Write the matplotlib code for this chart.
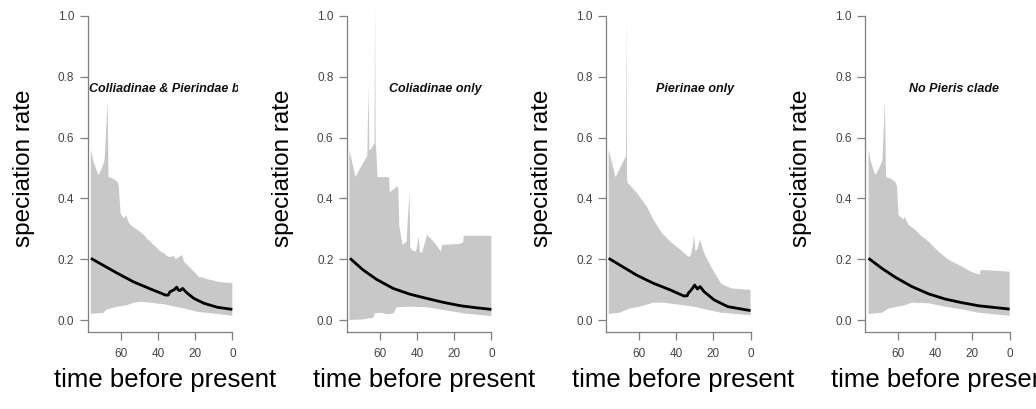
import numpy as np
import matplotlib
matplotlib.use("Agg")
from matplotlib import pyplot as plt

plt.rcParams['font.family'] = ['Liberation Sans', 'DejaVu Sans']

# ---- data (time before present, rate) ----
titles = ["Colliadinae & Pierindae basal", "Coliadinae only",
          "Pierinae only", "No Pieris clade"]

# panel 1: Colliadinae & Pierindae basal
p1_up_t = [76.0, 74.5, 72.0, 70.0, 68.6, 67.0, 66.5, 64.0, 61.8, 61.0, 60.0, 58.2, 57.0,
           56.0, 54.7, 53.0, 51.1, 49.5, 47.5, 45.5, 43.9, 42.0, 40.3, 38.5, 36.7, 35.0,
           33.2, 31.4, 30.5, 28.7, 26.9, 26.0, 24.0, 22.4, 20.0, 17.9, 15.5, 13.4, 10.0,
           8.1, 4.0, 0.0]
p1_up_v = [0.56, 0.52, 0.477, 0.50, 0.526, 0.72, 0.47, 0.465, 0.455, 0.44, 0.35, 0.335, 0.345,
           0.325, 0.313, 0.305, 0.297, 0.29, 0.28, 0.265, 0.258, 0.245, 0.236, 0.225, 0.22, 0.21,
           0.207, 0.211, 0.200, 0.207, 0.214, 0.192, 0.18, 0.17, 0.155, 0.141, 0.14, 0.134, 0.13,
           0.126, 0.123, 0.121]
p1_lo_t = [76.0, 69.0, 68.0, 65.4, 61.8, 56.5, 52.9, 49.3, 43.9, 36.7, 32.2, 26.0, 18.8, 8.1, 0.0]
p1_lo_v = [0.02, 0.024, 0.033, 0.038, 0.044, 0.049, 0.057, 0.06, 0.057, 0.052, 0.046, 0.038,
           0.027, 0.02, 0.014]
p1_mean_t = [76.0, 61.8, 52.9, 43.9, 35.8, 34.5, 33.5, 31.4, 29.9, 28.9, 28.1, 26.7, 24.2,
             20.6, 15.2, 8.1, 0.0]
p1_mean_v = [0.203, 0.154, 0.125, 0.102, 0.082, 0.082, 0.093, 0.099, 0.108, 0.098, 0.097,
             0.104, 0.088, 0.071, 0.055, 0.042, 0.035]

# panel 2: Coliadinae only
p2_up_t = [76.3, 73.0, 70.5, 68.0, 66.7, 66.0, 65.6, 64.9, 64.0, 62.8, 62.5, 62.2, 61.8, 61.2,
           55.0, 54.6, 50.5, 50.0, 49.5, 47.7, 45.6, 44.0, 43.6, 42.7, 40.5, 39.0, 38.5, 37.3,
           34.6, 31.1, 28.4, 27.2, 26.6, 17.5, 15.2, 14.8, 0.0]
p2_up_v = [0.56, 0.47, 0.50, 0.526, 0.54, 0.77, 0.56, 0.56, 0.57, 0.58, 1.04, 0.59, 0.55, 0.47,
           0.47, 0.42, 0.44, 0.43, 0.31, 0.247, 0.258, 0.42, 0.24, 0.23, 0.225, 0.275, 0.225, 0.22,
           0.28, 0.258, 0.236, 0.225, 0.247, 0.25, 0.255, 0.277, 0.277]
p2_lo_t = [76.3, 69.0, 63.3, 62.7, 59.0, 56.4, 52.5, 51.0, 43.8, 34.7, 25.7, 14.8, 0.0]
p2_lo_v = [0.0, 0.002, 0.008, 0.022, 0.024, 0.019, 0.022, 0.042, 0.044, 0.042, 0.033, 0.022, 0.013]
p2_mean_t = [76.0, 69.0, 61.8, 52.8, 43.8, 34.7, 25.7, 16.6, 7.6, 0.0]
p2_mean_v = [0.203, 0.165, 0.134, 0.104, 0.085, 0.071, 0.058, 0.047, 0.04, 0.035]

# panel 3: Pierinae only
p3_up_t = [76.2, 72.5, 70.0, 68.0, 66.9, 66.7, 66.3, 65.8, 61.3, 55.8, 52.2, 47.6, 43.1, 37.6,
           33.1, 32.0, 31.0, 30.3, 29.5, 28.5, 27.0, 26.0, 24.5, 21.3, 15.8, 10.4, 0.0]
p3_up_v = [0.56, 0.47, 0.50, 0.526, 0.54, 1.0, 0.46, 0.45, 0.42, 0.374, 0.33, 0.286, 0.258, 0.231,
           0.207, 0.215, 0.245, 0.28, 0.225, 0.235, 0.265, 0.24, 0.215, 0.176, 0.12, 0.104, 0.099]
p3_lo_t = [76.2, 70.4, 64.9, 59.5, 52.2, 46.7, 37.6, 30.4, 24.9, 15.8, 0.0]
p3_lo_v = [0.02, 0.024, 0.038, 0.044, 0.057, 0.057, 0.05, 0.044, 0.036, 0.024, 0.016]
p3_mean_t = [76.2, 61.3, 52.2, 43.1, 35.8, 34.0, 33.5, 31.8, 30.0, 28.5, 27.1, 24.9, 19.5, 12.2, 0.0]
p3_mean_v = [0.203, 0.148, 0.121, 0.099, 0.079, 0.080, 0.088, 0.099, 0.115, 0.102, 0.11, 0.093,
             0.066, 0.044, 0.031]

# panel 4: No Pieris clade
p4_up_t = [75.8, 74.5, 72.2, 70.0, 68.3, 67.0, 66.4, 64.0, 61.5, 60.5, 59.7, 57.0, 56.5, 54.3,
           50.7, 47.1, 43.5, 38.2, 32.8, 25.6, 21.0, 17.6, 16.0, 15.5, 0.0]
p4_up_v = [0.56, 0.52, 0.477, 0.50, 0.526, 0.72, 0.47, 0.465, 0.455, 0.44, 0.346, 0.33, 0.34, 0.313,
           0.297, 0.275, 0.258, 0.225, 0.198, 0.176, 0.16, 0.152, 0.15, 0.165, 0.159]
p4_lo_t = [75.8, 68.6, 65.0, 56.1, 52.5, 43.5, 34.6, 25.6, 16.7, 0.0]
p4_lo_v = [0.02, 0.024, 0.038, 0.049, 0.057, 0.055, 0.044, 0.035, 0.024, 0.014]
p4_mean_t = [75.8, 68.6, 61.5, 52.5, 43.5, 34.6, 25.6, 16.7, 7.7, 0.0]
p4_mean_v = [0.203, 0.17, 0.141, 0.11, 0.086, 0.069, 0.057, 0.047, 0.041, 0.036]

x_ticks = [60, 40, 20, 0]
y_ticks = [0.0, 0.2, 0.4, 0.6, 0.8, 1.0]

panels = [
    (p1_up_t, p1_up_v, p1_lo_t, p1_lo_v, p1_mean_t, p1_mean_v),
    (p2_up_t, p2_up_v, p2_lo_t, p2_lo_v, p2_mean_t, p2_mean_v),
    (p3_up_t, p3_up_v, p3_lo_t, p3_lo_v, p3_mean_t, p3_mean_v),
    (p4_up_t, p4_up_v, p4_lo_t, p4_lo_v, p4_mean_t, p4_mean_v),
]

W, H = 1036, 409
fig = plt.figure(figsize=(W / 100, H / 100), dpi=100)

axis_col = '#7f7f7f'
band_col = '#c8c8c8'

for i, (ut, uv, lt, lv, mt, mv) in enumerate(panels):
    left_px = 87.5 + 259.1 * i
    ax = fig.add_axes([left_px / W, (H - 332.2) / H, 150.4 / W, 328.4 / H])
    ax.set_xlim(77.8, -3.0)
    ax.set_ylim(-0.04, 1.04)

    poly_t = np.concatenate([ut, lt[::-1]])
    poly_v = np.concatenate([uv, lv[::-1]])
    ax.fill(poly_t, poly_v, color=band_col, lw=0, zorder=1, clip_on=False)
    ax.plot(mt, mv, color='black', lw=2.0, zorder=3, solid_capstyle='butt')

    ax.text(30, 0.76, titles[i], ha='center', va='center', fontsize=9,
            fontweight='bold', fontstyle='italic', color='#111111', clip_on=True)

    for s in ['top', 'right']:
        ax.spines[s].set_visible(False)
    for s in ['left', 'bottom']:
        ax.spines[s].set_color(axis_col)
        ax.spines[s].set_linewidth(0.9)
    ax.spines['left'].set_bounds(-0.04, 1.0)
    ax.spines['bottom'].set_bounds(0, 77.8)

    ax.set_xticks(x_ticks)
    ax.set_xticklabels([str(v) for v in x_ticks])
    ax.set_yticks(y_ticks)
    ax.set_yticklabels(['%.1f' % v for v in y_ticks])
    ax.tick_params(axis='both', length=5.5, width=0.9, color=axis_col,
                   labelsize=8.5, labelcolor='#444444')
    ax.tick_params(axis='y', pad=4)
    ax.tick_params(axis='x', pad=6)

    fig.text((left_px - 63.5) / W, (H - 168) / H, 'speciation rate', rotation=90,
             ha='center', va='center', fontsize=17.5, color='black')
    fig.text((left_px + 77.5) / W, (H - 380) / H, 'time before present',
             ha='center', va='center', fontsize=18.5, color='black')

fig.savefig('out.png', dpi=100)
